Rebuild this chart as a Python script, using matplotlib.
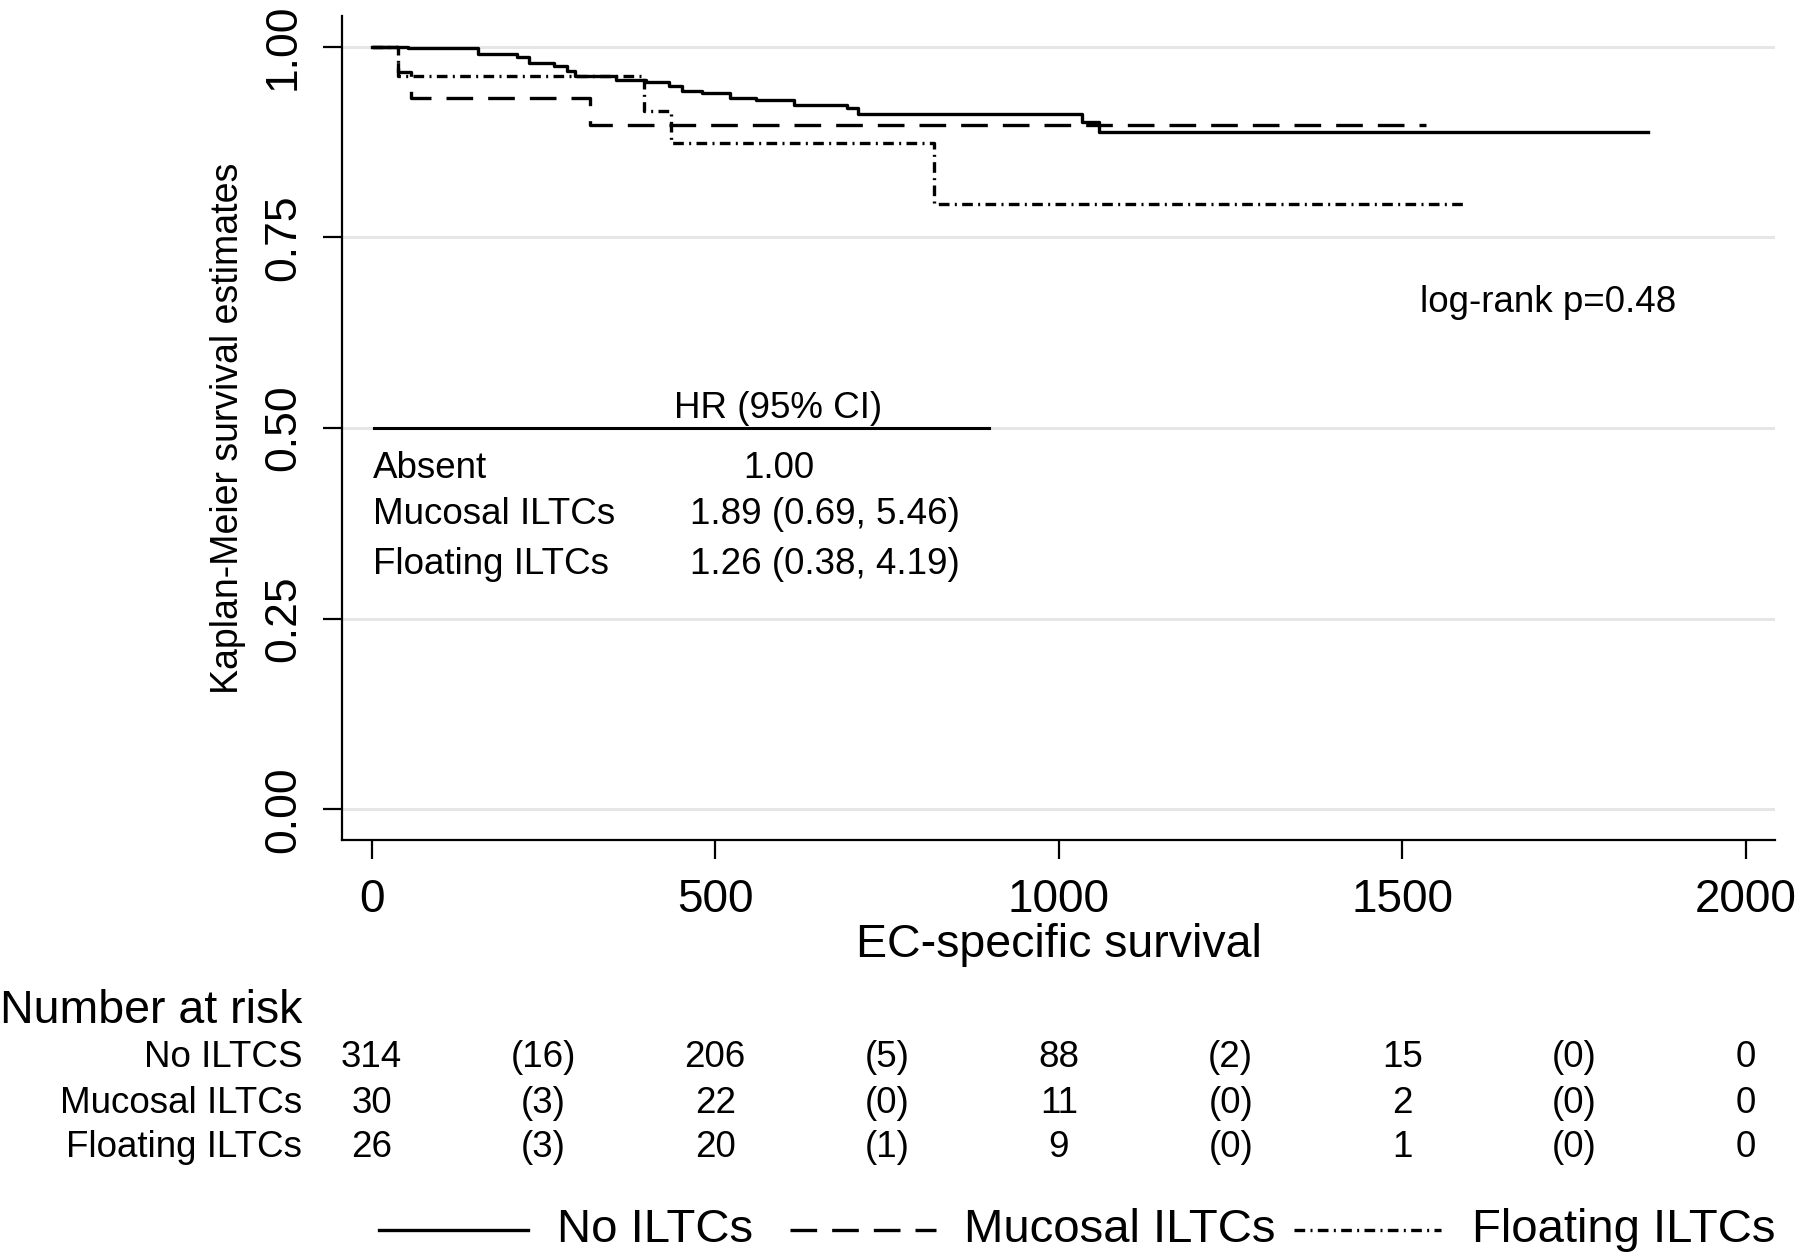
import matplotlib
matplotlib.use("Agg")
import matplotlib.pyplot as plt
import matplotlib.transforms as mtransforms
from matplotlib.lines import Line2D

plt.rcParams["font.family"] = ["Liberation Sans", "DejaVu Sans"]

# survival curves (time, estimate)
no_t = [0, 53, 155, 212, 229, 265, 285, 296, 355, 399, 433, 452, 481, 522, 559, 615, 692, 708, 1034, 1059, 1857]
no_s = [1.0, 0.998, 0.990, 0.986, 0.979, 0.975, 0.968, 0.961, 0.956, 0.953, 0.948, 0.942, 0.939, 0.933, 0.930,
        0.923, 0.919, 0.912, 0.901, 0.888, 0.888]
muc_t = [0, 39, 58, 318, 1534]
muc_s = [1.0, 0.967, 0.933, 0.897, 0.897]
flo_t = [0, 39, 396, 436, 818, 1593]
flo_s = [1.0, 0.962, 0.916, 0.873, 0.794, 0.794]

# hazard ratio box
hr_rows = ["Absent", "Mucosal ILTCs", "Floating ILTCs"]
hr_vals = ["1.00", "1.89 (0.69, 5.46)", "1.26 (0.38, 4.19)"]
logrank = "log-rank p=0.48"

# number at risk table
risk_times = [0, 250, 500, 750, 1000, 1250, 1500, 1750, 2000]
risk_labels = ["No ILTCS", "Mucosal ILTCs", "Floating ILTCs"]
risk_no = ["314", "(16)", "206", "(5)", "88", "(2)", "15", "(0)", "0"]
risk_muc = ["30", "(3)", "22", "(0)", "11", "(0)", "2", "(0)", "0"]
risk_flo = ["26", "(3)", "20", "(1)", "9", "(0)", "1", "(0)", "0"]

legend_names = ["No ILTCs", "Mucosal ILTCs", "Floating ILTCs"]

fig = plt.figure(figsize=(18, 12.56), dpi=100)
ax = fig.add_axes([0.19, 0.3312, 0.7961, 0.656])

lw = 2.4
styles = ["-", (0, (8, 4.5)), (0, (3.2, 1.6, 0.6, 1.6))]
ax.step(no_t, no_s, where="post", color="black", lw=lw, ls=styles[0], zorder=3)
ax.step(muc_t, muc_s, where="post", color="black", lw=lw, ls=styles[1], zorder=3)
ax.step(flo_t, flo_s, where="post", color="black", lw=lw, ls=styles[2], zorder=3)

ax.set_xlim(-43, 2042)
ax.set_ylim(-0.04, 1.04)
ax.set_xticks([0, 500, 1000, 1500, 2000])
yt = [0, 0.25, 0.5, 0.75, 1.0]
ax.set_yticks(yt)
ax.set_yticklabels(["%.2f" % v for v in yt], rotation=90, va="center")
for v in yt:
    ax.axhline(v, color="#e6e6e6", lw=2.2, zorder=1)

for s in ["top", "right"]:
    ax.spines[s].set_visible(False)
for s in ["left", "bottom"]:
    ax.spines[s].set_linewidth(1.6)
ax.tick_params(axis="x", length=13.5, width=1.6, labelsize=33, pad=14)
ax.tick_params(axis="y", length=13.5, width=1.6, labelsize=32, pad=14)
ax.set_ylabel("Kaplan-Meier survival estimates", fontsize=27, labelpad=12)

# HR box
ax.plot([4, 898], [0.5, 0.5], color="black", lw=2.2, zorder=4)
ax.text(592, 0.503, "HR (95% CI)", fontsize=26.5, ha="center", va="bottom")
row_y = [0.447, 0.387, 0.321]
for name, val, y in zip(hr_rows, hr_vals, row_y):
    ax.text(2, y, name, fontsize=26.5, ha="left", va="center")
    if val == "1.00":
        ax.text(593, y, val, fontsize=26.5, ha="center", va="center")
    else:
        ax.text(463, y, val, fontsize=26.5, ha="left", va="center")
ax.text(1712, 0.665, logrank, fontsize=26.5, ha="center", va="center")

# x label
fig.text(0.19 + 0.7961 / 2, 0.248, "EC-specific survival", fontsize=33.5, ha="center", va="center")

# number at risk
tr = mtransforms.blended_transform_factory(ax.transData, fig.transFigure)
fig.text(0.0, 0.195, "Number at risk", fontsize=33.5, ha="left", va="center")
rows_y = [0.158, 0.1215, 0.0865]
for lab, vals, y in zip(risk_labels, [risk_no, risk_muc, risk_flo], rows_y):
    fig.text(0.168, y, lab, fontsize=26.5, ha="right", va="center")
    for t, v in zip(risk_times, vals):
        fig.text(t, y, v, fontsize=26.5, ha="center", va="center", transform=tr)

# legend, drawn by hand so the uneven spacing of the original is kept
W = 1800.0
leg_y = 0.021
leg_line_x = [(379, 528), (790, 936), (1294, 1441)]
leg_text_x = [557, 964, 1472]
for st, (x0, x1), tx, name in zip(styles, leg_line_x, leg_text_x, legend_names):
    fig.add_artist(Line2D([x0 / W, x1 / W], [leg_y, leg_y], transform=fig.transFigure,
                          color="black", lw=lw, ls=st))
    fig.text(tx / W, leg_y, name, fontsize=34, ha="left", va="center")

fig.savefig("out.png", dpi=100)
